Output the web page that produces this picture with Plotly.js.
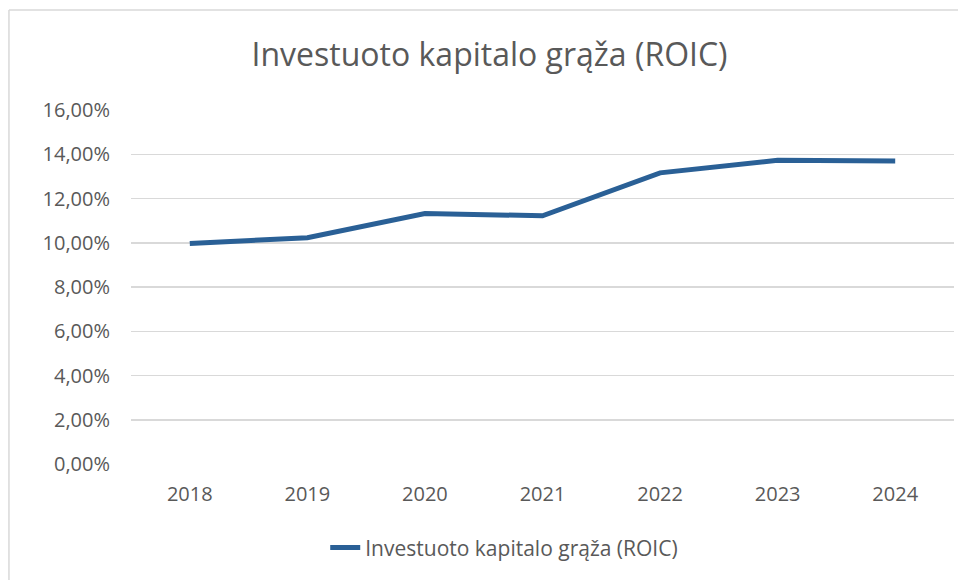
<!DOCTYPE html>
<html>
<head>
<meta charset="utf-8">
<script src="https://cdn.plot.ly/plotly-3.0.1.min.js"></script>
<style>
  body { margin: 0; background: #fff; }
  #chart { width: 958px; height: 580px; }
</style>
</head>
<body>
<div id="chart"></div>
<script>
// ROIC by year, in percent
var years = ["2018", "2019", "2020", "2021", "2022", "2023", "2024"];
var roic = [9.97, 10.23, 11.32, 11.22, 13.16, 13.73, 13.70];
var yTicks = [0, 2, 4, 6, 8, 10, 12, 14, 16];
var yTickText = ["0,00%", "2,00%", "4,00%", "6,00%", "8,00%", "10,00%", "12,00%", "14,00%", "16,00%"];
var seriesName = "Investuoto kapitalo grąža (ROIC)";

var textColor = "#595959";
var gridColor = "#d9d9d9";
var lineColor = "#2a6096";

var trace = {
  x: years,
  y: roic,
  name: seriesName,
  type: "scatter",
  mode: "lines",
  line: { color: lineColor, width: 5, shape: "linear" },
  showlegend: true
};

var layout = {
  width: 958,
  height: 580,
  margin: { l: 131, r: 4, t: 110, b: 116 },
  paper_bgcolor: "#fff",
  plot_bgcolor: "#fff",
  font: { family: "Open Sans, sans-serif", color: textColor, size: 20 },
  title: {
    text: seriesName,
    x: 0.511,
    xanchor: "center",
    y: 0.905,
    yanchor: "middle",
    font: { size: 32, color: textColor }
  },
  xaxis: {
    type: "category",
    range: [-0.5, 6.5],
    showgrid: false,
    zeroline: false,
    showline: false,
    ticks: "",
    ticklabelstandoff: 16,
    tickfont: { size: 20 }
  },
  yaxis: {
    range: [0, 16],
    tickvals: yTicks,
    ticktext: yTickText,
    showgrid: true,
    gridcolor: gridColor,
    gridwidth: 1.5,
    zeroline: false,
    showline: false,
    ticks: "",
    ticklabelstandoff: 20,
    tickfont: { size: 20 }
  },
  showlegend: true,
  legend: {
    orientation: "h",
    x: 0.236,
    xanchor: "left",
    y: -0.237,
    yanchor: "middle",
    font: { size: 21, color: textColor }
  },
  shapes: [
    {
      type: "line", xref: "paper", yref: "paper",
      x0: -0.1483, x1: 1.05, y0: 1.2825, y1: 1.2825,
      line: { color: gridColor, width: 1.5 }
    },
    {
      type: "line", xref: "paper", yref: "paper",
      x0: -0.1483, x1: -0.1483, y0: -0.35, y1: 1.2825,
      line: { color: gridColor, width: 1.5 }
    }
  ]
};

Plotly.newPlot("chart", [trace], layout, { displayModeBar: false, staticPlot: true });
</script>
</body>
</html>
